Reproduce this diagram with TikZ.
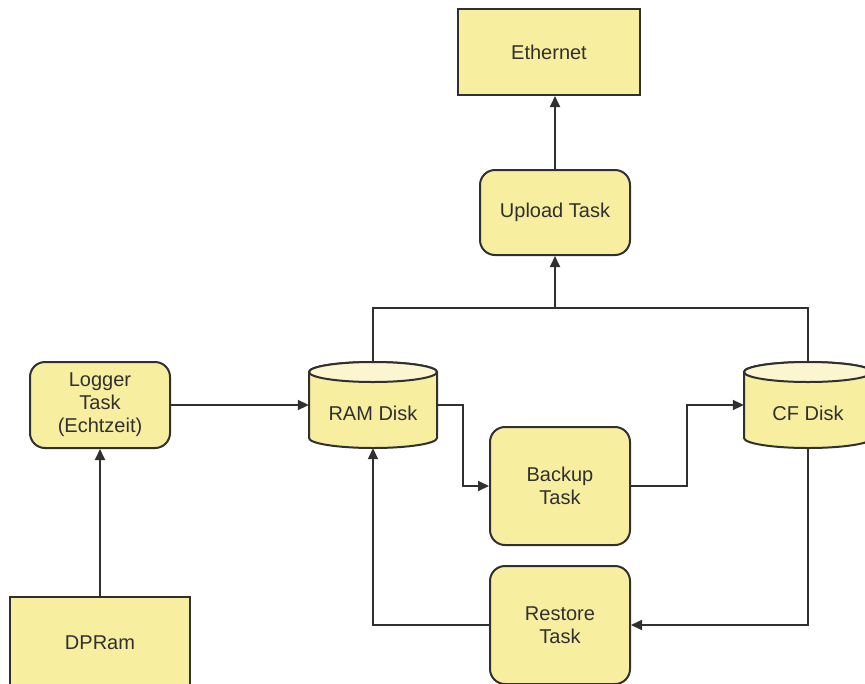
\documentclass[tikz,border=0pt]{standalone}
\usepackage{fontspec}
\setmainfont{Liberation Sans}
\usetikzlibrary{arrows.meta}
\definecolor{boxfill}{HTML}{F8EEA0}
\definecolor{endfill}{HTML}{FBF6D0}
\definecolor{edge}{HTML}{303030}
\begin{document}
\begin{tikzpicture}[x=1pt,y=1pt,
  every node/.style={font=\fontsize{20}{23}\selectfont, text=edge, align=center},
  sqbox/.style={draw=edge, line width=2pt, fill=boxfill},
  rbox/.style={draw=edge, line width=2pt, fill=boxfill, rounded corners=15pt},
  cylbox/.style={minimum width=128pt, minimum height=86pt, inner sep=0pt},
  cylline/.style={draw=edge, line width=2pt},
  conn/.style={draw=edge, line width=1.8pt},
  arr/.style={conn, -{Triangle[length=11pt,width=10pt]}}]
\useasboundingbox (0,0) rectangle (865,-683);
\clip (0,0) rectangle (865,-683);
% cylinders
\path[cylline, fill=boxfill] (309,-372) -- (309,-438) arc[start angle=180, end angle=360, x radius=64, y radius=10] -- (437,-372) arc[start angle=0, end angle=180, x radius=64, y radius=10] -- cycle;
\path[cylline, fill=endfill] (373,-372) ellipse[x radius=64, y radius=10];
\path[cylline, fill=boxfill] (744,-372) -- (744,-438) arc[start angle=180, end angle=360, x radius=64, y radius=10] -- (872,-372) arc[start angle=0, end angle=180, x radius=64, y radius=10] -- cycle;
\path[cylline, fill=endfill] (808,-372) ellipse[x radius=64, y radius=10];
\node[cylbox, label={[yshift=-8pt]center:RAM Disk}] (ram) at (373,-405) {};
\node[cylbox, label={[yshift=-8pt]center:CF Disk}] (cf) at (808,-405) {};
% boxes
\node[sqbox, minimum width=182pt, minimum height=86pt] (eth) at (549,-52) {Ethernet};
\node[rbox, minimum width=150pt, minimum height=85pt] (upload) at (555,-212.5) {Upload Task};
\node[rbox, minimum width=140pt, minimum height=86pt] (logger) at (100,-405) {Logger\\Task\\(Echtzeit)};
\node[sqbox, minimum width=180pt, minimum height=92pt] (dpram) at (100,-643) {DPRam};
\node[rbox, minimum width=140pt, minimum height=118pt] (backup) at (560,-486) {Backup\\Task};
\node[rbox, minimum width=140pt, minimum height=118pt] (restore) at (560,-625) {Restore\\Task};
% connectors
\coordinate (j) at (555,-308);
\draw[arr] (upload.north) -- (upload.north |- eth.south);
\draw[conn] (ram.north) |- (j) -| (cf.north);
\draw[arr] (j) -- (upload.south);
\draw[arr] (logger.east) -- (ram.west);
\draw[arr] (dpram.north) -- (logger.south);
\draw[arr] (ram.east) -- ++(26,0) |- (backup.west);
\draw[arr] (backup.east) -- ++(56,0) |- (cf.west);
\draw[arr] (cf.south) |- (restore.east);
\draw[arr] (restore.west) -| (ram.south);
\end{tikzpicture}
\end{document}
